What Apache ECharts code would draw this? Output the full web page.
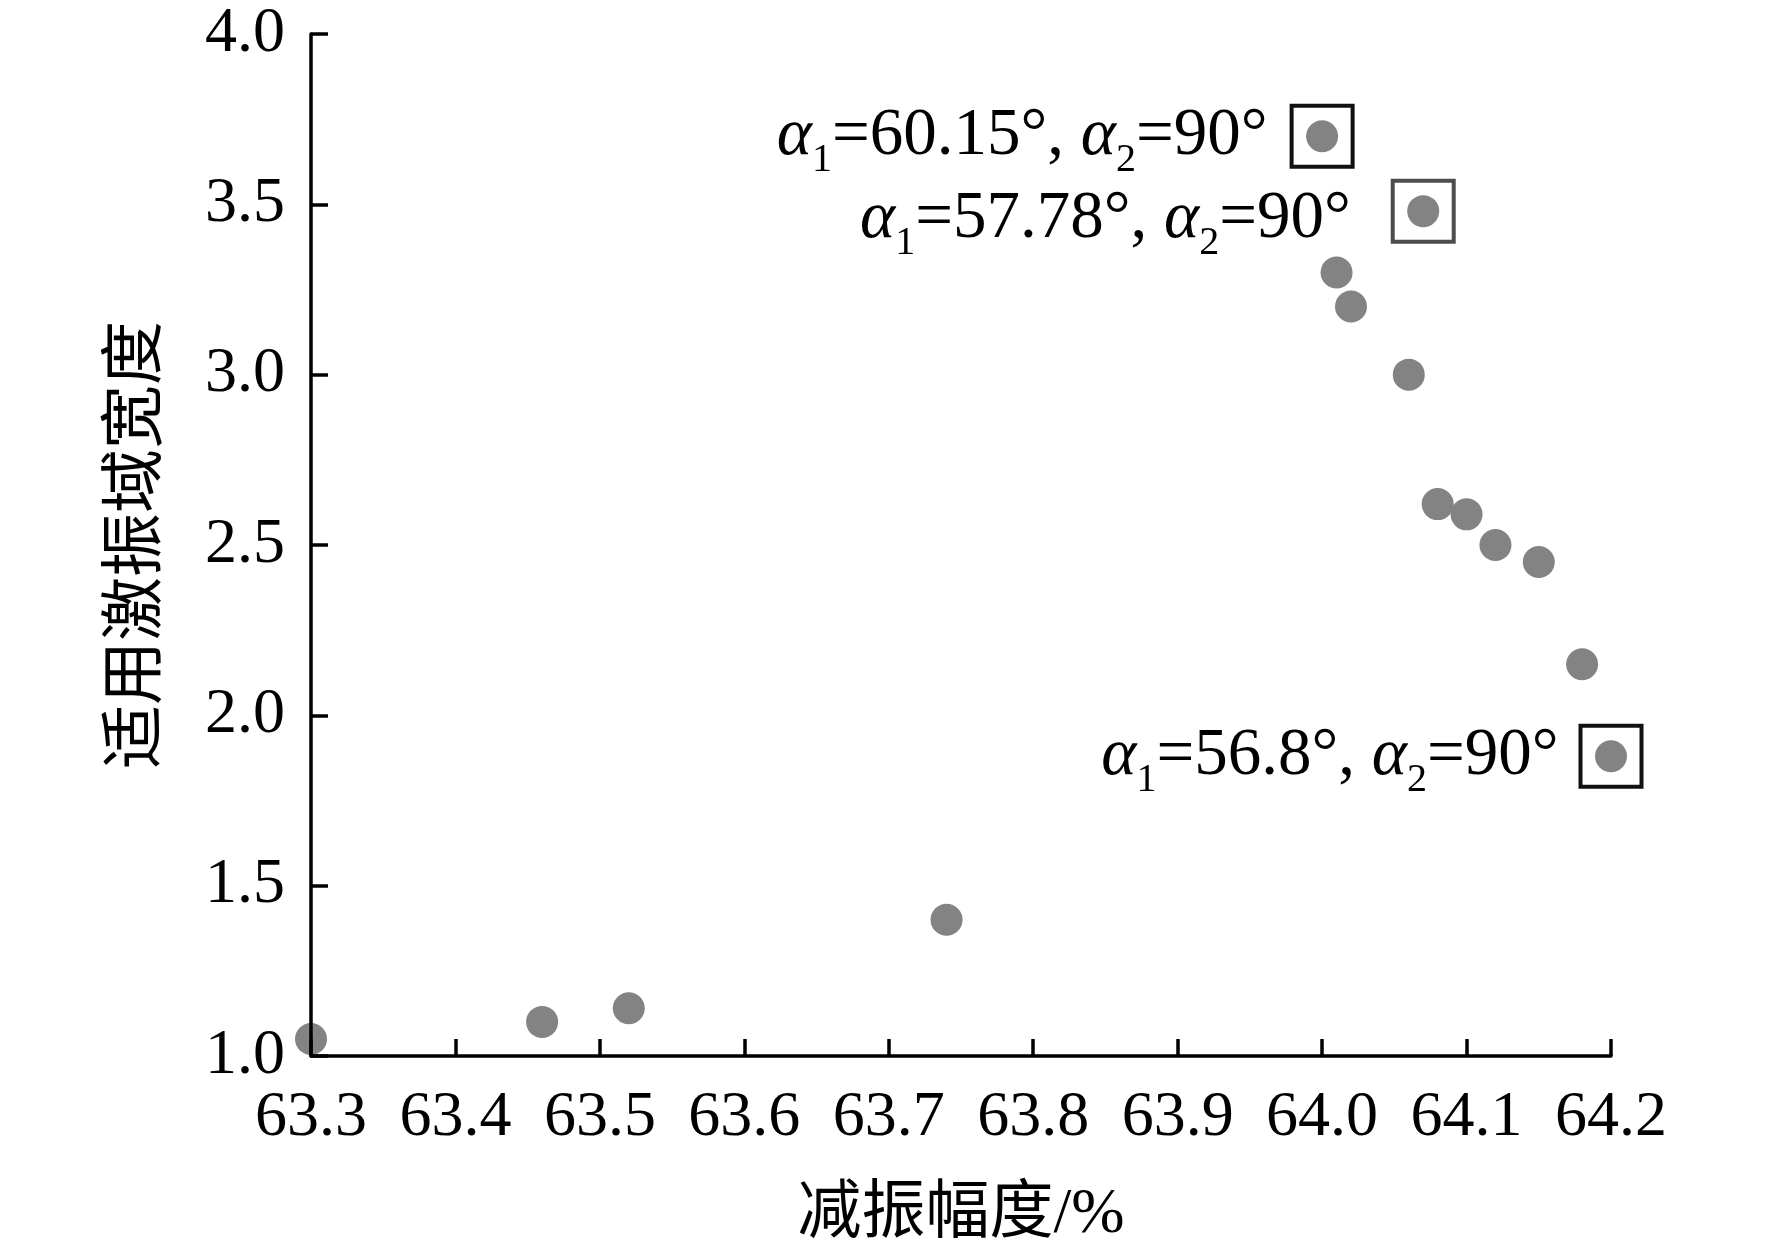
<!DOCTYPE html>
<html>
<head>
<meta charset="utf-8">
<script src="https://cdn.jsdelivr.net/npm/echarts@6/dist/echarts.min.js"></script>
<style>
    html, body { margin: 0; padding: 0; background: #fff; }
    #chart { width: 1772px; height: 1252px; }
</style>
</head>
<body>
<div id="chart"></div>
<script>
// damping amplitude (%) vs. applicable excitation band width
const xValues = [63.30, 63.46, 63.52, 63.74, 64.00, 64.07, 64.01, 64.02, 64.06, 64.08, 64.10, 64.12, 64.15, 64.18, 64.20];
const yValues = [1.05, 1.10, 1.14, 1.40, 3.70, 3.48, 3.30, 3.20, 3.00, 2.62, 2.59, 2.50, 2.45, 2.15, 1.88];

// highlighted designs (boxed points)
const boxX = [64.00, 64.07, 64.20];
const boxY = [3.70, 3.48, 1.88];
const alpha1 = ['60.15', '57.78', '56.8'];
const alpha2 = ['90', '90', '90'];

const xTitle = '减振幅度/%';
const yTitle = '适用激振域宽度';

const FONT = "'Liberation Serif', 'Times New Roman', 'Noto Sans CJK SC', serif";
const boxColors = ['#111111', '#4d4d4d', '#111111'];
const labelGaps = [22, 40, 20];
const labelShift = [0, 8, 0];

const chart = echarts.init(document.getElementById('chart'));

const points = xValues.map((x, i) => [x, yValues[i]]);

const boxes = boxX.map((x, i) => ({
    value: [x, boxY[i]],
    itemStyle: { borderColor: boxColors[i] },
    label: {
        distance: labelGaps[i],
        offset: [0, labelShift[i]],
        formatter: '{a|α}{s|1}{t|=' + alpha1[i] + '°, }{a|α}{s|2}{t|=' + alpha2[i] + '°}',
    },
}));

const axisText = { fontFamily: FONT, fontSize: 64, color: '#000' };

chart.setOption({
    backgroundColor: '#fff',
    animation: false,
    grid: { left: 311, right: 161, top: 34, bottom: 196, outerBoundsMode: 'none', containLabel: false },
    xAxis: {
        type: 'value',
        min: 63.3,
        max: 64.2,
        interval: 0.1,
        z: 10,
        name: xTitle,
        nameLocation: 'middle',
        nameGap: 127,
        nameTextStyle: axisText,
        axisLine: { lineStyle: { color: '#000', width: 3.5 } },
        axisTick: { inside: true, length: 17, lineStyle: { color: '#000', width: 3.5 } },
        axisLabel: Object.assign({ margin: 30, formatter: (v) => v.toFixed(1) }, axisText),
        splitLine: { show: false },
    },
    yAxis: {
        type: 'value',
        min: 1.0,
        max: 4.0,
        interval: 0.5,
        z: 10,
        name: yTitle,
        nameLocation: 'middle',
        nameGap: 141,
        nameTextStyle: axisText,
        axisLine: { show: true, lineStyle: { color: '#000', width: 3.5 } },
        axisTick: { show: true, inside: true, length: 17, lineStyle: { color: '#000', width: 3.5 } },
        axisLabel: Object.assign({ margin: 26, formatter: (v) => v.toFixed(1) }, axisText),
        splitLine: { show: false },
    },
    series: [
        {
            type: 'scatter',
            data: points,
            symbol: 'circle',
            symbolSize: 32,
            clip: false,
            itemStyle: { color: '#838383', opacity: 1 },
        },
        {
            type: 'scatter',
            data: boxes,
            symbol: 'rect',
            symbolSize: 61,
            clip: false,
            silent: true,
            itemStyle: { color: 'rgba(0,0,0,0)', borderWidth: 4, opacity: 1 },
            label: {
                show: true,
                position: 'left',
                color: '#000',
                fontFamily: FONT,
                rich: {
                    a: { fontFamily: FONT, fontStyle: 'italic', fontSize: 67, lineHeight: 88, color: '#000', verticalAlign: 'middle' },
                    t: { fontFamily: FONT, fontSize: 67, lineHeight: 88, color: '#000', verticalAlign: 'middle' },
                    s: { fontFamily: FONT, fontSize: 40, lineHeight: 40, color: '#000', verticalAlign: 'bottom' },
                },
            },
        },
    ],
});
</script>
</body>
</html>
